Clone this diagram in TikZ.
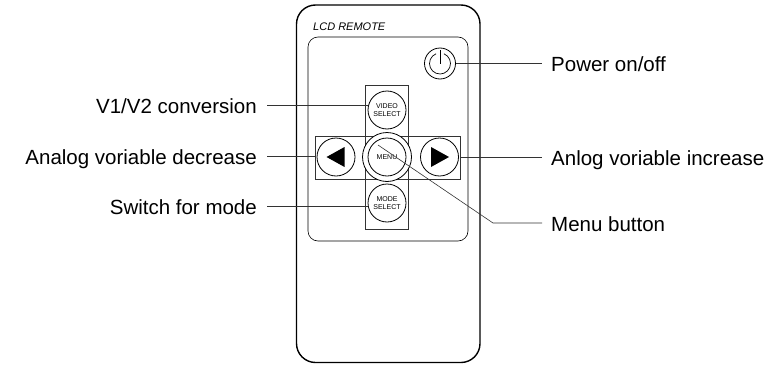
\documentclass[tikz,border=0pt]{standalone}
\usepackage{fontspec}
\setmainfont{Liberation Sans}
\usepackage{tikz}

\begin{document}
\begin{tikzpicture}[x=1pt, y=-1pt,
    lbl/.style={font=\fontsize{20.5pt}{24pt}\selectfont, text height=16pt, text depth=0pt, inner ysep=0pt},
    btn/.style={circle, draw, fill=white, line width=0.8pt, minimum size=38pt, inner sep=0pt, align=center,
                font=\fontsize{7pt}{8pt}\selectfont},
    panelline/.style={draw=black!80, line width=0.5pt},
    lead/.style={draw=black!80, line width=0.6pt}]
\useasboundingbox (0,0) rectangle (784,364);

% Remote body and panel
\draw[line width=1.4pt, rounded corners=19pt] (296.5,5) rectangle (480,362.5);
\node[anchor=base west, font=\fontsize{11pt}{13pt}\selectfont\itshape, inner sep=0pt] (title) at (313,30) {LCD REMOTE};
\draw[line width=0.6pt, rounded corners=10pt] (308,37) rectangle (468,241);

% Key cross
\node[panelline, minimum width=43pt, minimum height=144pt, inner sep=0pt] (vrect) at (387,157) {};
\node[panelline, minimum width=145pt, minimum height=43pt, inner sep=0pt] (hrect) at (387.5,157.5) {};

% Buttons
\node[btn] (video) at (387,110) {VIDEO\\SELECT};
\node[btn] (mode) at (387,203) {MODE\\SELECT};
\node[btn, minimum size=49pt] (menuring) at (387,157) {};
\node[btn] (menu) at (387,157) {MENU};
\node[btn] (left) at (336,157) {};
\node[btn] (right) at (439.5,157) {};
\fill (left.center) ++(-9.5,0) -- ++(18,-10) -- ++(0,20) -- cycle;
\fill (right.center) ++(9.5,0) -- ++(-18,-10) -- ++(0,20) -- cycle;

% Power button
\node[btn, minimum size=31pt] (power) at (440,63.5) {};
\draw[line width=0.7pt] ([shift={(68:10.5pt)}]power.center) arc[start angle=68, end angle=-248, radius=10.5pt];
\draw[line width=0.7pt] (power.center) -- ++(0,-13.5);

% Left labels
\node[lbl, anchor=east, inner xsep=10pt] (vidlbl) at (267,105) {V1/V2 conversion};
\node[lbl, anchor=east, inner xsep=10pt] (declbl) at (267,156) {Analog voriable decrease};
\node[lbl, anchor=east, inner xsep=10pt] (modelbl) at (267,206) {Switch for mode};
\draw[lead] (vidlbl.east) -- (vidlbl.east -| video.west);
\draw[lead] (declbl.east) -- (declbl.east -| hrect.west);
\draw[lead] (modelbl.east) -- (modelbl.east -| mode.west);

% Right labels
\node[lbl, anchor=west, inner xsep=9pt] (pwrlbl) at (542,63.5) {Power on/off};
\node[lbl, anchor=west, inner xsep=9pt] (inclbl) at (542,157) {Anlog voriable increase};
\node[lbl, anchor=west, inner xsep=9pt] (menulbl) at (542,223) {Menu button};
\draw[lead] (power.east) -- (pwrlbl.west);
\draw[lead] (inclbl.west -| hrect.east) -- (inclbl.west);
\coordinate (menutip) at (378,145);
\coordinate (menubend) at (493,223);
\draw[lead] (menutip) -- (menubend) -- (menulbl.west);
\end{tikzpicture}
\end{document}
